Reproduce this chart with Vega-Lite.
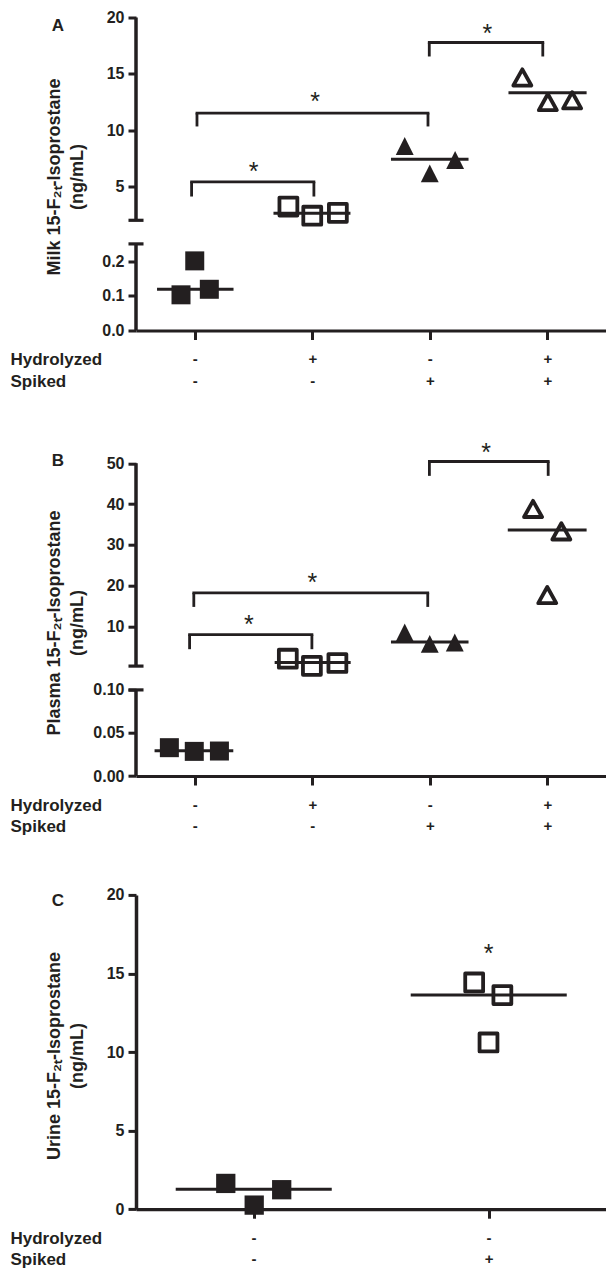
{
  "$schema": "https://vega.github.io/schema/vega-lite/v6.json",
  "padding": {"left": 10, "top": 9.5, "right": 0, "bottom": 0},
  "background": "white",
  "bounds": "flush",
  "spacing": 118.2,
  "config": {
    "view": {"stroke": null},
    "font": "Liberation Sans",
    "axis": {
      "grid": false,
      "labelFont": "Liberation Sans", "labelFontWeight": "bold", "labelFontSize": 16, "labelColor": "#231f20",
      "titleFont": "Liberation Sans", "titleFontWeight": "bold", "titleFontSize": 17, "titleColor": "#231f20",
      "tickColor": "#231f20", "domainColor": "#231f20", "tickWidth": 3, "domainWidth": 3.2,
      "labelOverlap": false, "labelFlush": false, "labelBound": false
    },
    "title": {"font": "Liberation Sans", "fontSize": 17, "fontWeight": "bold", "color": "#231f20"}
  },
  "datasets": {
    "axA": [{"x": 0.5, "v": 2, "v2": 20}, {"x": 0.5, "v": 0, "v2": 0.25}],
    "capA": [{"x": 0.436, "x2": 0.564, "v": 2}, {"x": 0.436, "x2": 0.564, "v": 0.25}],
    "ptA": [
      {"grp": "ctrl", "x": 0.883, "v": 0.103}, {"grp": "ctrl", "x": 1.0, "v": 0.201}, {"grp": "ctrl", "x": 1.124, "v": 0.119},
      {"grp": "hyd", "x": 1.797, "v": 3.22}, {"grp": "hyd", "x": 2.0, "v": 2.41}, {"grp": "hyd", "x": 2.218, "v": 2.66},
      {"grp": "spk", "x": 2.787, "v": 8.6}, {"grp": "spk", "x": 3.0, "v": 6.16}, {"grp": "spk", "x": 3.216, "v": 7.35},
      {"grp": "both", "x": 3.788, "v": 14.68}, {"grp": "both", "x": 4.005, "v": 12.49}, {"grp": "both", "x": 4.212, "v": 12.65}
    ],
    "medA": [
      {"x": 0.679, "x2": 1.33, "v": 0.119}, {"x": 1.67, "x2": 2.325, "v": 2.62},
      {"x": 2.67, "x2": 3.33, "v": 7.42}, {"x": 3.67, "x2": 4.335, "v": 13.31}
    ],
    "brA": [
      {"x": 0.973, "x2": 2.014, "top": 5.41, "bot": 4.11},
      {"x": 1.019, "x2": 2.985, "top": 11.51, "bot": 10.33},
      {"x": 2.996, "x2": 3.962, "top": 17.78, "bot": 16.54}
    ],
    "stA": [{"x": 1.5, "v": 6.83}, {"x": 2.025, "v": 13.04}, {"x": 3.49, "v": 19.11}],
    "axB": [{"x": 0.5, "v": 0.3, "v2": 50}, {"x": 0.5, "v": 0, "v2": 0.1}],
    "capB": [{"x": 0.436, "x2": 0.564, "v": 0.3}, {"x": 0.436, "x2": 0.564, "v": 0.1}],
    "ptB": [
      {"grp": "ctrl", "x": 0.784, "v": 0.0329}, {"grp": "ctrl", "x": 0.996, "v": 0.0286}, {"grp": "ctrl", "x": 1.21, "v": 0.029},
      {"grp": "hyd", "x": 1.792, "v": 2.11}, {"grp": "hyd", "x": 1.997, "v": 0.35}, {"grp": "hyd", "x": 2.214, "v": 1.06},
      {"grp": "spk", "x": 2.787, "v": 8.53}, {"grp": "spk", "x": 3.0, "v": 5.74}, {"grp": "spk", "x": 3.213, "v": 6.08},
      {"grp": "both", "x": 3.879, "v": 38.8}, {"grp": "both", "x": 4.12, "v": 33.3}, {"grp": "both", "x": 4.0, "v": 17.7}
    ],
    "medB": [
      {"x": 0.658, "x2": 1.328, "v": 0.0292}, {"x": 1.68, "x2": 2.327, "v": 1.18},
      {"x": 2.67, "x2": 3.33, "v": 6.23}, {"x": 3.664, "x2": 4.335, "v": 33.66}
    ],
    "brB": [
      {"x": 0.956, "x2": 1.997, "top": 8.0, "bot": 4.44},
      {"x": 0.992, "x2": 2.983, "top": 18.23, "bot": 14.8},
      {"x": 2.997, "x2": 4.008, "top": 50.42, "bot": 46.9}
    ],
    "stB": [{"x": 1.46, "v": 11.96}, {"x": 2.0, "v": 22.27}, {"x": 3.48, "v": 54.1}],
    "ptC": [
      {"grp": "ctrl", "x": 0.882, "v": 1.64}, {"grp": "ctrl", "x": 1.003, "v": 0.26}, {"grp": "ctrl", "x": 1.12, "v": 1.24},
      {"grp": "spk", "x": 1.939, "v": 14.43}, {"grp": "spk", "x": 2.059, "v": 13.62}, {"grp": "spk", "x": 2.0, "v": 10.61}
    ],
    "medC": [{"x": 0.669, "x2": 1.333, "v": 1.27}, {"x": 1.669, "x2": 2.333, "v": 13.63}],
    "stC": [{"x": 2.0, "v": 16.67}]
  },
  "vconcat": [
    {
      "width": 470, "height": 313,
      "title": {"text": "A", "anchor": "start", "frame": "group", "align": "center", "baseline": "alphabetic", "offset": 0, "dx": -78, "dy": 38},
      "layer": [
        {
          "data": {"name": "axA"},
          "mark": {"type": "rule", "strokeWidth": 3.5, "color": "#231f20"},
          "encoding": {
            "x": {"field": "x", "type": "quantitative",
              "scale": {"domain": [0.5, 4.5], "nice": false, "zero": false},
              "axis": {"values": [1, 2, 3, 4], "tickSize": 9, "labelPadding": 24, "labelFontSize": 15, "labelBaseline": "alphabetic", "labelLineHeight": 21.7, "labelAngle": 0,
                "labelExpr": "datum.value == 1 ? ['-','-'] : datum.value == 2 ? ['+','-'] : datum.value == 3 ? ['-','+'] : ['+','+']",
                "title": ["Hydrolyzed", "Spiked"], "titleX": -126, "titleY": 34, "titleAlign": "left", "titleAnchor": "start", "titleBaseline": "alphabetic", "titleLineHeight": 21.7}},
            "y": {"field": "v", "type": "quantitative",
              "scale": {"domain": [0, 0.25, 2, 20], "range": [313, 226.4, 202.8, 0], "nice": false, "zero": false},
              "axis": {"values": [0, 0.1, 0.2, 5, 10, 15, 20], "domain": false, "tickSize": 8, "labelPadding": 4,
                "labelExpr": "datum.value < 1 ? format(datum.value, '.1f') : format(datum.value, 'd')",
                "title": ["Milk 15-F₂ₜ-Isoprostane", "(ng/mL)"], "titleFontSize": 18, "titleAngle": -90, "titleX": -77, "titleY": 159, "titleAlign": "center", "titleBaseline": "alphabetic", "titleLineHeight": 23}},
            "y2": {"field": "v2"}
          }
        },
        {
          "data": {"name": "capA"},
          "mark": {"type": "rule", "strokeWidth": 3.2, "color": "#231f20"},
          "encoding": {"x": {"field": "x", "type": "quantitative"}, "x2": {"field": "x2"}, "y": {"field": "v", "type": "quantitative"}}
        },
        {
          "data": {"name": "medA"},
          "mark": {"type": "rule", "strokeWidth": 3, "color": "#231f20"},
          "encoding": {"x": {"field": "x", "type": "quantitative"}, "x2": {"field": "x2"}, "y": {"field": "v", "type": "quantitative"}}
        },
        {
          "data": {"name": "brA"},
          "mark": {"type": "rule", "strokeWidth": 2.8, "strokeCap": "square", "color": "#231f20"},
          "encoding": {"x": {"field": "x", "type": "quantitative"}, "x2": {"field": "x2"}, "y": {"field": "top", "type": "quantitative"}}
        },
        {
          "data": {"name": "brA"},
          "mark": {"type": "rule", "strokeWidth": 2.8, "color": "#231f20"},
          "encoding": {"x": {"field": "x", "type": "quantitative"}, "y": {"field": "top", "type": "quantitative"}, "y2": {"field": "bot"}}
        },
        {
          "data": {"name": "brA"},
          "mark": {"type": "rule", "strokeWidth": 2.8, "color": "#231f20"},
          "encoding": {"x": {"field": "x2", "type": "quantitative"}, "y": {"field": "top", "type": "quantitative"}, "y2": {"field": "bot"}}
        },
        {
          "data": {"name": "stA"},
          "mark": {"type": "text", "text": "*", "fontSize": 25, "font": "Liberation Sans", "baseline": "alphabetic", "dy": 14.5, "align": "center", "color": "#231f20"},
          "encoding": {"x": {"field": "x", "type": "quantitative"}, "y": {"field": "v", "type": "quantitative"}}
        },
        {
          "data": {"name": "ptA"},
          "transform": [{"filter": "datum.grp == 'ctrl'"}],
          "mark": {"type": "point", "shape": "square", "filled": true, "size": 361, "color": "#231f20", "opacity": 1},
          "encoding": {"x": {"field": "x", "type": "quantitative"}, "y": {"field": "v", "type": "quantitative"}}
        },
        {
          "data": {"name": "ptA"},
          "transform": [{"filter": "datum.grp == 'hyd'"}],
          "mark": {"type": "point", "shape": "square", "filled": false, "size": 320, "color": "#231f20", "strokeWidth": 3.8, "strokeJoin": "round", "opacity": 1},
          "encoding": {"x": {"field": "x", "type": "quantitative"}, "y": {"field": "v", "type": "quantitative"}}
        },
        {
          "data": {"name": "ptA"},
          "transform": [{"filter": "datum.grp == 'spk'"}],
          "mark": {"type": "point", "shape": "M0,-1L1,1L-1,1Z", "filled": true, "size": 320, "color": "#231f20", "opacity": 1},
          "encoding": {"x": {"field": "x", "type": "quantitative"}, "y": {"field": "v", "type": "quantitative"}}
        },
        {
          "data": {"name": "ptA"},
          "transform": [{"filter": "datum.grp == 'both'"}],
          "mark": {"type": "point", "shape": "M0,-0.9L1,0.9L-1,0.9Z", "filled": false, "size": 324, "color": "#231f20", "strokeWidth": 3.8, "strokeJoin": "round", "opacity": 1},
          "encoding": {"x": {"field": "x", "type": "quantitative"}, "y": {"field": "v", "type": "quantitative"}}
        }
      ]
    },
    {
      "width": 470, "height": 327.3,
      "title": {"text": "B", "anchor": "start", "frame": "group", "align": "center", "baseline": "alphabetic", "offset": 0, "dx": -78, "dy": 42},
      "layer": [
        {
          "data": {"name": "axB"},
          "mark": {"type": "rule", "strokeWidth": 3.5, "color": "#231f20"},
          "encoding": {
            "x": {"field": "x", "type": "quantitative",
              "scale": {"domain": [0.5, 4.5], "nice": false, "zero": false},
              "axis": {"values": [1, 2, 3, 4], "tickSize": 9, "labelPadding": 24, "labelFontSize": 15, "labelBaseline": "alphabetic", "labelLineHeight": 21.7, "labelAngle": 0,
                "labelExpr": "datum.value == 1 ? ['-','-'] : datum.value == 2 ? ['+','-'] : datum.value == 3 ? ['-','+'] : ['+','+']",
                "title": ["Hydrolyzed", "Spiked"], "titleX": -126, "titleY": 34, "titleAlign": "left", "titleAnchor": "start", "titleBaseline": "alphabetic", "titleLineHeight": 21.7}},
            "y": {"field": "v", "type": "quantitative",
              "scale": {"domain": [0, 0.1, 0.3, 50], "range": [327.3, 241.2, 217.4, 14.5], "nice": false, "zero": false},
              "axis": {"values": [0, 0.05, 0.1, 10, 20, 30, 40, 50], "domain": false, "tickSize": 8, "labelPadding": 4,
                "labelExpr": "datum.value < 1 ? format(datum.value, '.2f') : format(datum.value, 'd')",
                "title": ["Plasma 15-F₂ₜ-Isoprostane", "(ng/mL)"], "titleFontSize": 18, "titleAngle": -90, "titleX": -77, "titleY": 173.8, "titleAlign": "center", "titleBaseline": "alphabetic", "titleLineHeight": 23}},
            "y2": {"field": "v2"}
          }
        },
        {
          "data": {"name": "capB"},
          "mark": {"type": "rule", "strokeWidth": 3.2, "color": "#231f20"},
          "encoding": {"x": {"field": "x", "type": "quantitative"}, "x2": {"field": "x2"}, "y": {"field": "v", "type": "quantitative"}}
        },
        {
          "data": {"name": "medB"},
          "mark": {"type": "rule", "strokeWidth": 3, "color": "#231f20"},
          "encoding": {"x": {"field": "x", "type": "quantitative"}, "x2": {"field": "x2"}, "y": {"field": "v", "type": "quantitative"}}
        },
        {
          "data": {"name": "brB"},
          "mark": {"type": "rule", "strokeWidth": 2.8, "strokeCap": "square", "color": "#231f20"},
          "encoding": {"x": {"field": "x", "type": "quantitative"}, "x2": {"field": "x2"}, "y": {"field": "top", "type": "quantitative"}}
        },
        {
          "data": {"name": "brB"},
          "mark": {"type": "rule", "strokeWidth": 2.8, "color": "#231f20"},
          "encoding": {"x": {"field": "x", "type": "quantitative"}, "y": {"field": "top", "type": "quantitative"}, "y2": {"field": "bot"}}
        },
        {
          "data": {"name": "brB"},
          "mark": {"type": "rule", "strokeWidth": 2.8, "color": "#231f20"},
          "encoding": {"x": {"field": "x2", "type": "quantitative"}, "y": {"field": "top", "type": "quantitative"}, "y2": {"field": "bot"}}
        },
        {
          "data": {"name": "stB"},
          "mark": {"type": "text", "text": "*", "fontSize": 25, "font": "Liberation Sans", "baseline": "alphabetic", "dy": 14.5, "align": "center", "color": "#231f20"},
          "encoding": {"x": {"field": "x", "type": "quantitative"}, "y": {"field": "v", "type": "quantitative"}}
        },
        {
          "data": {"name": "ptB"},
          "transform": [{"filter": "datum.grp == 'ctrl'"}],
          "mark": {"type": "point", "shape": "square", "filled": true, "size": 361, "color": "#231f20", "opacity": 1},
          "encoding": {"x": {"field": "x", "type": "quantitative"}, "y": {"field": "v", "type": "quantitative"}}
        },
        {
          "data": {"name": "ptB"},
          "transform": [{"filter": "datum.grp == 'hyd'"}],
          "mark": {"type": "point", "shape": "square", "filled": false, "size": 320, "color": "#231f20", "strokeWidth": 3.8, "strokeJoin": "round", "opacity": 1},
          "encoding": {"x": {"field": "x", "type": "quantitative"}, "y": {"field": "v", "type": "quantitative"}}
        },
        {
          "data": {"name": "ptB"},
          "transform": [{"filter": "datum.grp == 'spk'"}],
          "mark": {"type": "point", "shape": "M0,-1L1,1L-1,1Z", "filled": true, "size": 320, "color": "#231f20", "opacity": 1},
          "encoding": {"x": {"field": "x", "type": "quantitative"}, "y": {"field": "v", "type": "quantitative"}}
        },
        {
          "data": {"name": "ptB"},
          "transform": [{"filter": "datum.grp == 'both'"}],
          "mark": {"type": "point", "shape": "M0,-0.9L1,0.9L-1,0.9Z", "filled": false, "size": 324, "color": "#231f20", "strokeWidth": 3.8, "strokeJoin": "round", "opacity": 1},
          "encoding": {"x": {"field": "x", "type": "quantitative"}, "y": {"field": "v", "type": "quantitative"}}
        }
      ]
    },
    {
      "width": 470, "height": 314.3,
      "title": {"text": "C", "anchor": "start", "frame": "group", "align": "center", "baseline": "alphabetic", "offset": 0, "dx": -78, "dy": 36},
      "layer": [
        {
          "data": {"name": "medC"},
          "mark": {"type": "rule", "strokeWidth": 3, "color": "#231f20"},
          "encoding": {
            "x": {"field": "x", "type": "quantitative",
              "scale": {"domain": [0.5, 2.5], "nice": false, "zero": false},
              "axis": {"values": [1, 2], "tickSize": 9, "labelPadding": 24, "labelFontSize": 15, "labelBaseline": "alphabetic", "labelLineHeight": 21.7, "labelAngle": 0,
                "labelExpr": "datum.value == 1 ? ['-','-'] : ['-','+']",
                "title": ["Hydrolyzed", "Spiked"], "titleX": -126, "titleY": 34, "titleAlign": "left", "titleAnchor": "start", "titleBaseline": "alphabetic", "titleLineHeight": 21.7}},
            "x2": {"field": "x2"},
            "y": {"field": "v", "type": "quantitative",
              "scale": {"domain": [0, 20], "nice": false, "zero": false},
              "axis": {"values": [0, 5, 10, 15, 20], "domain": true, "domainWidth": 3.5, "tickSize": 8, "labelPadding": 4,
                "title": ["Urine 15-F₂ₜ-Isoprostane", "(ng/mL)"], "titleFontSize": 18, "titleAngle": -90, "titleX": -77, "titleY": 160.5, "titleAlign": "center", "titleBaseline": "alphabetic", "titleLineHeight": 23}}
          }
        },
        {
          "data": {"name": "stC"},
          "mark": {"type": "text", "text": "*", "fontSize": 25, "font": "Liberation Sans", "baseline": "alphabetic", "dy": 14.5, "align": "center", "color": "#231f20"},
          "encoding": {"x": {"field": "x", "type": "quantitative"}, "y": {"field": "v", "type": "quantitative"}}
        },
        {
          "data": {"name": "ptC"},
          "transform": [{"filter": "datum.grp == 'ctrl'"}],
          "mark": {"type": "point", "shape": "square", "filled": true, "size": 372, "color": "#231f20", "opacity": 1},
          "encoding": {"x": {"field": "x", "type": "quantitative"}, "y": {"field": "v", "type": "quantitative"}}
        },
        {
          "data": {"name": "ptC"},
          "transform": [{"filter": "datum.grp == 'spk'"}],
          "mark": {"type": "point", "shape": "square", "filled": false, "size": 320, "color": "#231f20", "strokeWidth": 3.8, "strokeJoin": "round", "opacity": 1},
          "encoding": {"x": {"field": "x", "type": "quantitative"}, "y": {"field": "v", "type": "quantitative"}}
        }
      ]
    }
  ]
}
